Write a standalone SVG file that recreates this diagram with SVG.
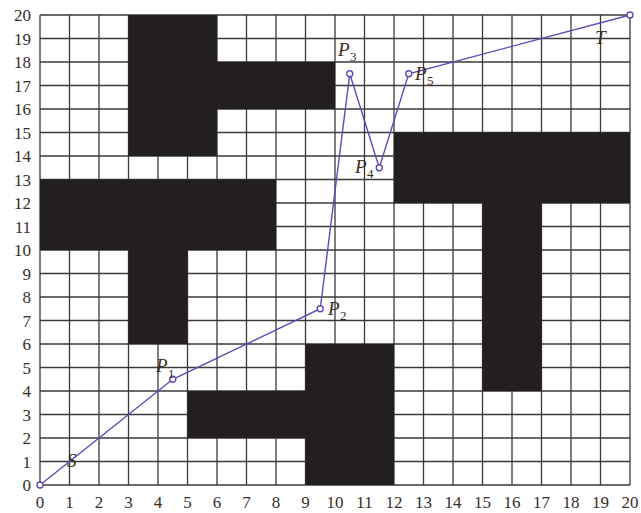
<svg xmlns="http://www.w3.org/2000/svg" width="641" height="513" viewBox="0 0 641 513">
<style>
.grid{stroke:#3a3a3a;stroke-width:1.3;fill:none}
.obs{fill:#231f20}
.ax{font-family:"Liberation Serif",serif;font-size:17px;fill:#3a2d28}
.axy{text-anchor:end}
.axx{text-anchor:middle}
.lbl{font-family:"Liberation Serif",serif;font-style:italic;font-size:19px;fill:#3d2a1a}
.sub{font-family:"Liberation Serif",serif;font-size:13px;fill:#3d2a1a}
.path{stroke:#5a4cb8;stroke-width:1.4;fill:none}
.pt{stroke:#5a4cb8;stroke-width:1.4;fill:#ffffff}
</style>
<rect width="641" height="513" fill="#ffffff"/>
<g id="grid" class="grid">
<path d="M40 15V485M69.5 15V485M99 15V485M128.5 15V485M158 15V485M187.5 15V485M217 15V485M246.5 15V485M276 15V485M305.5 15V485M335 15V485M364.5 15V485M394 15V485M423.5 15V485M453 15V485M482.5 15V485M512 15V485M541.5 15V485M571 15V485M600.5 15V485M630 15V485"/>
<path d="M40 15H630M40 38.5H630M40 62H630M40 85.5H630M40 109H630M40 132.5H630M40 156H630M40 179.5H630M40 203H630M40 226.5H630M40 250H630M40 273.5H630M40 297H630M40 320.5H630M40 344H630M40 367.5H630M40 391H630M40 414.5H630M40 438H630M40 461.5H630M40 485H630"/>
</g>
<g id="obstacle1" class="obs"><rect x="128.5" y="15" width="88.5" height="141"/><rect x="216" y="62" width="119" height="47"/></g>
<g id="obstacle2" class="obs"><rect x="40" y="179.5" width="236" height="70.5"/><rect x="128.5" y="249" width="59" height="95"/></g>
<g id="obstacle3" class="obs"><rect x="187.5" y="391" width="119" height="47"/><rect x="305.5" y="344" width="88.5" height="141"/></g>
<g id="obstacle4" class="obs"><rect x="394" y="132.5" width="236" height="70.5"/><rect x="482.5" y="202" width="59" height="189"/></g>
<g id="axis-y" class="ax axy">
<text x="31" y="491">0</text><text x="31" y="467.5">1</text><text x="31" y="444">2</text><text x="31" y="420.5">3</text><text x="31" y="397">4</text><text x="31" y="373.5">5</text><text x="31" y="350">6</text><text x="31" y="326.5">7</text><text x="31" y="303">8</text><text x="31" y="279.5">9</text><text x="31" y="256">10</text><text x="31" y="232.5">11</text><text x="31" y="209">12</text><text x="31" y="185.5">13</text><text x="31" y="162">14</text><text x="31" y="138.5">15</text><text x="31" y="115">16</text><text x="31" y="91.5">17</text><text x="31" y="68">18</text><text x="31" y="44.5">19</text><text x="31" y="21">20</text>
</g>
<g id="axis-x" class="ax axx">
<text x="40" y="508">0</text><text x="69.5" y="508">1</text><text x="99" y="508">2</text><text x="128.5" y="508">3</text><text x="158" y="508">4</text><text x="187.5" y="508">5</text><text x="217" y="508">6</text><text x="246.5" y="508">7</text><text x="276" y="508">8</text><text x="305.5" y="508">9</text><text x="335" y="508">10</text><text x="364.5" y="508">11</text><text x="394" y="508">12</text><text x="423.5" y="508">13</text><text x="453" y="508">14</text><text x="482.5" y="508">15</text><text x="512" y="508">16</text><text x="541.5" y="508">17</text><text x="571" y="508">18</text><text x="600.5" y="508">19</text><text x="630" y="508">20</text>
</g>
<g id="connectors">
<polyline class="path" points="40,485 172.75,379.25 320.25,308.75 349.75,73.75 379.25,167.75 408.75,73.75 630,15"/>
</g>
<g id="S"><circle class="pt" cx="40" cy="485" r="3"/><text class="lbl" x="67" y="467">S</text></g>
<g id="P1"><circle class="pt" cx="172.75" cy="379.25" r="3"/><text class="lbl" x="156" y="372">P</text><text class="sub" x="168" y="378">1</text></g>
<g id="P2"><circle class="pt" cx="320.25" cy="308.75" r="3"/><text class="lbl" x="328" y="315">P</text><text class="sub" x="340" y="320">2</text></g>
<g id="P3"><circle class="pt" cx="349.75" cy="73.75" r="3"/><text class="lbl" x="338" y="56">P</text><text class="sub" x="350" y="61">3</text></g>
<g id="P4"><circle class="pt" cx="379.25" cy="167.75" r="3"/><text class="lbl" x="355" y="173">P</text><text class="sub" x="367" y="178">4</text></g>
<g id="P5"><circle class="pt" cx="408.75" cy="73.75" r="3"/><text class="lbl" x="415" y="80">P</text><text class="sub" x="427" y="85">5</text></g>
<g id="T"><circle class="pt" cx="630" cy="15" r="3"/><text class="lbl" x="595" y="44">T</text></g>
</svg>
